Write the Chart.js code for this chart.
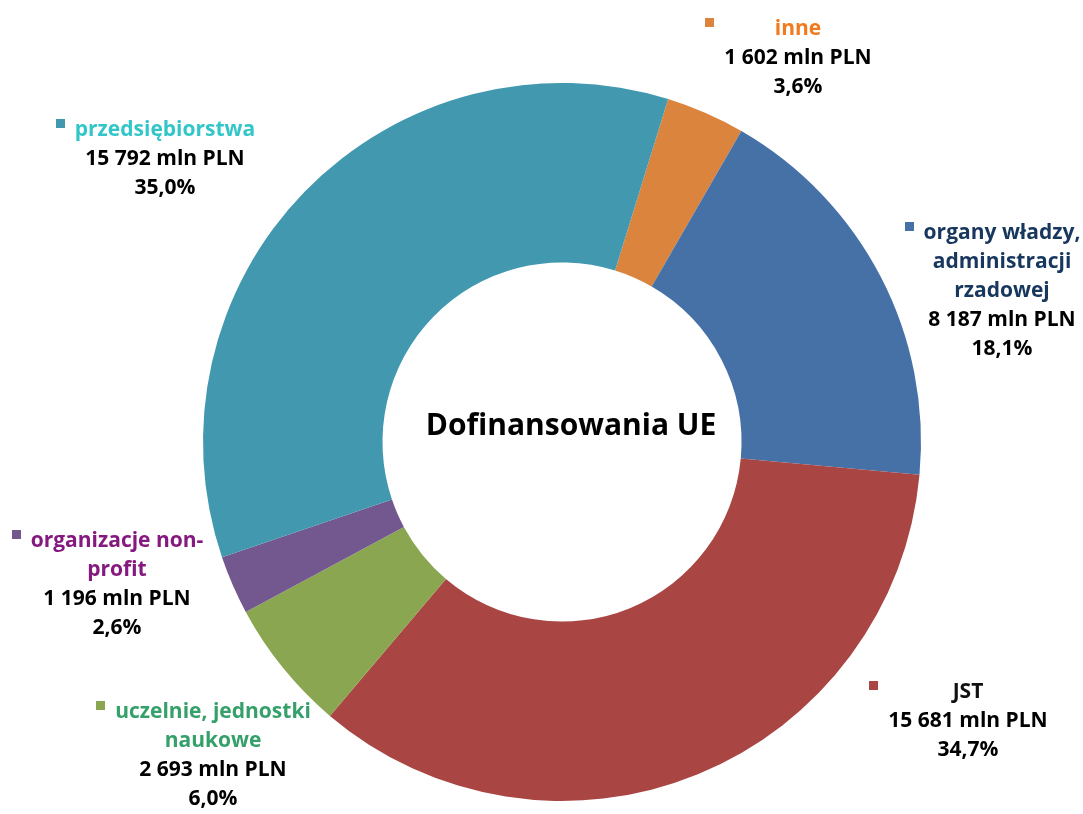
<!DOCTYPE html>
<html lang="pl">
<head>
<meta charset="utf-8">
<title>Dofinansowania UE</title>
<script src="https://cdn.jsdelivr.net/npm/chart.js@4.4.1/dist/chart.umd.min.js"></script>
<style>
  html, body { margin: 0; padding: 0; background: #fff; }
  #wrap { width: 1083px; height: 814px; }
</style>
</head>
<body>
<div id="wrap"><canvas id="donut" width="1083" height="814"></canvas></div>
<script>
// ─── DATA ──────────────────────────────────────────────────
const categories = [
  ['inne'],
  ['organy władzy,', 'administracji', 'rzadowej'],
  ['JST'],
  ['uczelnie, jednostki', 'naukowe'],
  ['organizacje non-', 'profit'],
  ['przedsiębiorstwa'],
];
const valuesMln   = [1602, 8187, 15681, 2693, 1196, 15792];
const shareLabels = ['3,6%', '18,1%', '34,7%', '6,0%', '2,6%', '35,0%'];
const centerTitle = 'Dofinansowania UE';

// ─── STYLE ─────────────────────────────────────────────────
const sliceColors = ['#DA843D', '#4671A6', '#A94644', '#8AA650', '#72588F', '#4299AF'];
const nameColors  = ['#F27A1E', '#17375E', '#111111', '#35A06A', '#86197F', '#33C6C9'];
// centre x of the text block and middle of its first line
const labelAnchors = [
  { x: 798,  y: 29 },
  { x: 1002, y: 233 },
  { x: 968,  y: 692 },
  { x: 213,  y: 712 },
  { x: 117,  y: 541 },
  { x: 165,  y: 130 },
];
const FONT   = 'bold 21px "Open Sans", Lato, sans-serif';
const LINE_H = 29;

function formatMln(v) {
  return String(v).replace(/\B(?=(\d{3})+(?!\d))/g, ' ') + ' mln PLN';
}

// ─── LABELS + CENTRE TITLE ────────────────────────────────
const labelPlugin = {
  id: 'sliceLabels',
  afterDraw(chart) {
    const ctx = chart.ctx;
    const arc = chart.getDatasetMeta(0).data[0];
    ctx.save();
    ctx.textAlign = 'center';
    ctx.textBaseline = 'middle';

    ctx.font = 'bold 30px "Open Sans", Lato, sans-serif';
    ctx.fillStyle = '#000';
    ctx.fillText(centerTitle, arc.x + 9, arc.y - 16);

    ctx.font = FONT;
    categories.forEach((name, i) => {
      const a = labelAnchors[i];
      const lines = [...name, formatMln(valuesMln[i]), shareLabels[i]];
      const widest = Math.max(...lines.map(l => ctx.measureText(l).width));
      lines.forEach((line, j) => {
        ctx.fillStyle = j < name.length ? nameColors[i] : '#000';
        ctx.fillText(line, a.x, a.y + j * LINE_H);
      });
      ctx.fillStyle = sliceColors[i];
      ctx.fillRect(Math.round(a.x - widest / 2 - 19), a.y - 11, 9, 9);
    });
    ctx.restore();
  },
};

new Chart(document.getElementById('donut'), {
  type: 'doughnut',
  data: {
    labels: categories,
    datasets: [{
      data: valuesMln,
      backgroundColor: sliceColors,
      borderWidth: 0,
    }],
  },
  options: {
    responsive: false,
    animation: false,
    devicePixelRatio: 1,
    rotation: 17.2,
    cutout: '50%',
    layout: { padding: { left: 203, right: 162, top: 83, bottom: 13 } },
    plugins: {
      legend: { display: false },
      tooltip: { enabled: false },
    },
  },
  plugins: [labelPlugin],
});
</script>
</body>
</html>
